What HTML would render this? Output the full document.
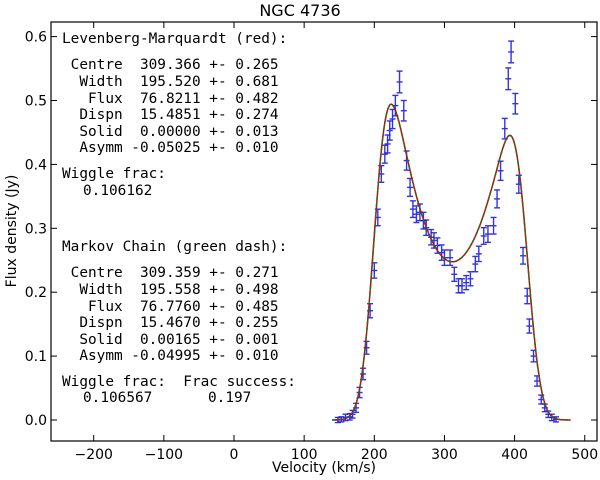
<!DOCTYPE html>
<html><head><meta charset="utf-8"><style>
body{margin:0;background:#fff;}
svg{display:block;}
.tk{font-family:"DejaVu Sans","Liberation Sans",sans-serif;font-size:14px;fill:#000;}
.mono{font-family:"DejaVu Sans Mono","Liberation Mono",monospace;font-size:14.4px;fill:#000;white-space:pre;}
</style></head><body>
<svg id="chart" width="600" height="480" xmlns="http://www.w3.org/2000/svg">
<text x="300" y="16" text-anchor="middle" class="tk" style="font-size:16px">NGC 4736</text>
<text x="324" y="472" text-anchor="middle" class="tk">Velocity (km/s)</text>
<text transform="translate(16,231) rotate(-90)" text-anchor="middle" class="tk">Flux density (Jy)</text>
<g id="ticks"></g>
<g id="series"></g>
<g>
<text class="mono" x="62" y="43" xml:space="preserve">Levenberg-Marquardt (red):</text>
<text class="mono" x="62" y="69" xml:space="preserve"> Centre  309.366 +- 0.265</text>
<text class="mono" x="62" y="86" xml:space="preserve">  Width  195.520 +- 0.681</text>
<text class="mono" x="62" y="103" xml:space="preserve">   Flux  76.8211 +- 0.482</text>
<text class="mono" x="62" y="119" xml:space="preserve">  Dispn  15.4851 +- 0.274</text>
<text class="mono" x="62" y="136" xml:space="preserve">  Solid  0.00000 +- 0.013</text>
<text class="mono" x="62" y="152" xml:space="preserve">  Asymm -0.05025 +- 0.010</text>
<text class="mono" x="62" y="178" xml:space="preserve">Wiggle frac:</text>
<text class="mono" x="83" y="195" xml:space="preserve">0.106162</text>
<text class="mono" x="62" y="251" xml:space="preserve">Markov Chain (green dash):</text>
<text class="mono" x="62" y="277" xml:space="preserve"> Centre  309.359 +- 0.271</text>
<text class="mono" x="62" y="294" xml:space="preserve">  Width  195.558 +- 0.498</text>
<text class="mono" x="62" y="311" xml:space="preserve">   Flux  76.7760 +- 0.485</text>
<text class="mono" x="62" y="327" xml:space="preserve">  Dispn  15.4670 +- 0.255</text>
<text class="mono" x="62" y="344" xml:space="preserve">  Solid  0.00165 +- 0.001</text>
<text class="mono" x="62" y="360" xml:space="preserve">  Asymm -0.04995 +- 0.010</text>
<text class="mono" x="62" y="386" xml:space="preserve">Wiggle frac:  Frac success:</text>
<text class="mono" x="83" y="402" xml:space="preserve">0.106567</text>
<text class="mono" x="208" y="402" xml:space="preserve">0.197</text>
</g>
<rect x="51" y="22" width="546" height="419" fill="none" stroke="#000" stroke-width="1.2"/>
</svg>
<script>
const velocities=[148,153,159,165,169,174,179,184,189,194,200,205,210,215,219,222,226,230,236,242,246,251,255,260,265,270,274,281,285,290,296,300,308,314,320,325,331,337,344,349,356,362,370,375,380,386,391,395,401,406,412,418,421,427,432,438,443,448,453,459];
const fluxes=[0.000,0.001,0.004,0.005,0.009,0.019,0.043,0.072,0.113,0.171,0.234,0.317,0.385,0.416,0.432,0.453,0.471,0.492,0.529,0.484,0.406,0.364,0.330,0.322,0.325,0.312,0.301,0.286,0.281,0.273,0.262,0.254,0.254,0.228,0.210,0.210,0.215,0.221,0.244,0.260,0.288,0.291,0.304,0.346,0.390,0.456,0.534,0.576,0.495,0.369,0.257,0.194,0.147,0.100,0.061,0.032,0.019,0.009,0.004,0.001];
const errors=[0.004,0.004,0.005,0.005,0.006,0.007,0.008,0.009,0.010,0.011,0.012,0.013,0.013,0.014,0.014,0.015,0.015,0.016,0.017,0.016,0.015,0.014,0.013,0.013,0.013,0.013,0.012,0.012,0.012,0.012,0.012,0.012,0.012,0.011,0.011,0.011,0.011,0.011,0.012,0.012,0.013,0.013,0.013,0.014,0.015,0.016,0.017,0.017,0.016,0.014,0.013,0.012,0.011,0.009,0.008,0.007,0.006,0.005,0.005,0.004];
const xTicks=[-200,-100,0,100,200,300,400,500];
const yTicks=[0.0,0.1,0.2,0.3,0.4,0.5,0.6];
const lmParams=[309.366,195.520,76.8211,15.4851,-0.05025];
const mcParams=[309.359,195.558,76.7760,15.4670,-0.04995];

const NS='http://www.w3.org/2000/svg';
const X=v=>234+(v)*0.7015;
const Y=f=>420-f*639;
const tg=document.getElementById('ticks'), sg=document.getElementById('series');
function mk(tag,attrs,parent){const e=document.createElementNS(NS,tag);for(const k in attrs)e.setAttribute(k,attrs[k]);parent.appendChild(e);return e;}
xTicks.forEach(t=>{
  const x=X(t);
  const l1=mk('line',{x1:x,x2:x,y1:441,y2:435,stroke:'#000','stroke-width':1},tg);
  
  
  const l2=mk('line',{x1:x,x2:x,y1:22,y2:28,stroke:'#000','stroke-width':1},tg);
  
  
  const tx=mk('text',{x:x,y:459,'text-anchor':'middle',class:'tk'},tg);
  tx.textContent=t<0?'\u2212'+(-t):String(t);
  
  
});
yTicks.forEach(t=>{
  const y=Y(t);
  const l1=mk('line',{x1:51,x2:57,y1:y,y2:y,stroke:'#000','stroke-width':1},tg);
  
  
  const l2=mk('line',{x1:597,x2:591,y1:y,y2:y,stroke:'#000','stroke-width':1},tg);
  
  
  const tx=mk('text',{x:47,y:y+5,'text-anchor':'end',class:'tk'},tg);
  tx.textContent=t.toFixed(1);
  
  
});
function model(p){
  const [c,w,flux,sig,asym]=p, hw=w/2*1.1, b=1.85;
  const vs=[],gs=[],dv=1;
  for(let v=140;v<=480;v+=dv){vs.push(v);const u=(v-c)/hw;gs.push(Math.abs(u)<1?(1+b*u*u)*(1+1.2*asym*u):0);}
  const out=vs.map(v=>{let s=0,ws=0;for(let i=0;i<vs.length;i++){const d=(vs[i]-v)/sig;const k=Math.exp(-0.5*d*d);s+=k*gs[i];ws+=k;}return s/ws;});
  let tot=out.reduce((a,b)=>a+b,0)*dv;
  return vs.map((v,i)=>[v,1.08*out[i]*flux/tot]);
}
function drawModel(p,color,dash,name){
  const pts=model(p).map(q=>X(q[0]).toFixed(1)+','+Y(q[1]).toFixed(1)).join(' ');
  const pl=mk('polyline',{points:pts,fill:'none',stroke:color,'stroke-width':1.5,'stroke-dasharray':dash},sg);
  
  
}
velocities.forEach((v,i)=>{
  const g=mk('g',{stroke:'#1010e0','stroke-width':1.4,opacity:0.85},sg);
  
  
  const x=X(v),y=Y(fluxes[i]),y1=Y(fluxes[i]-errors[i]),y2=Y(fluxes[i]+errors[i]);
  mk('line',{x1:x,x2:x,y1:y1,y2:y2},g);
  mk('line',{x1:x-3,x2:x+3,y1:y1,y2:y1},g);
  mk('line',{x1:x-3,x2:x+3,y1:y2,y2:y2},g);
  mk('line',{x1:x-3,x2:x+3,y1:y,y2:y},g);
});
drawModel(lmParams,'#e00000','none','lm-fit-curve');
drawModel(mcParams,'#207020','4,3','mcmc-fit-curve');
</script>
</body></html>
